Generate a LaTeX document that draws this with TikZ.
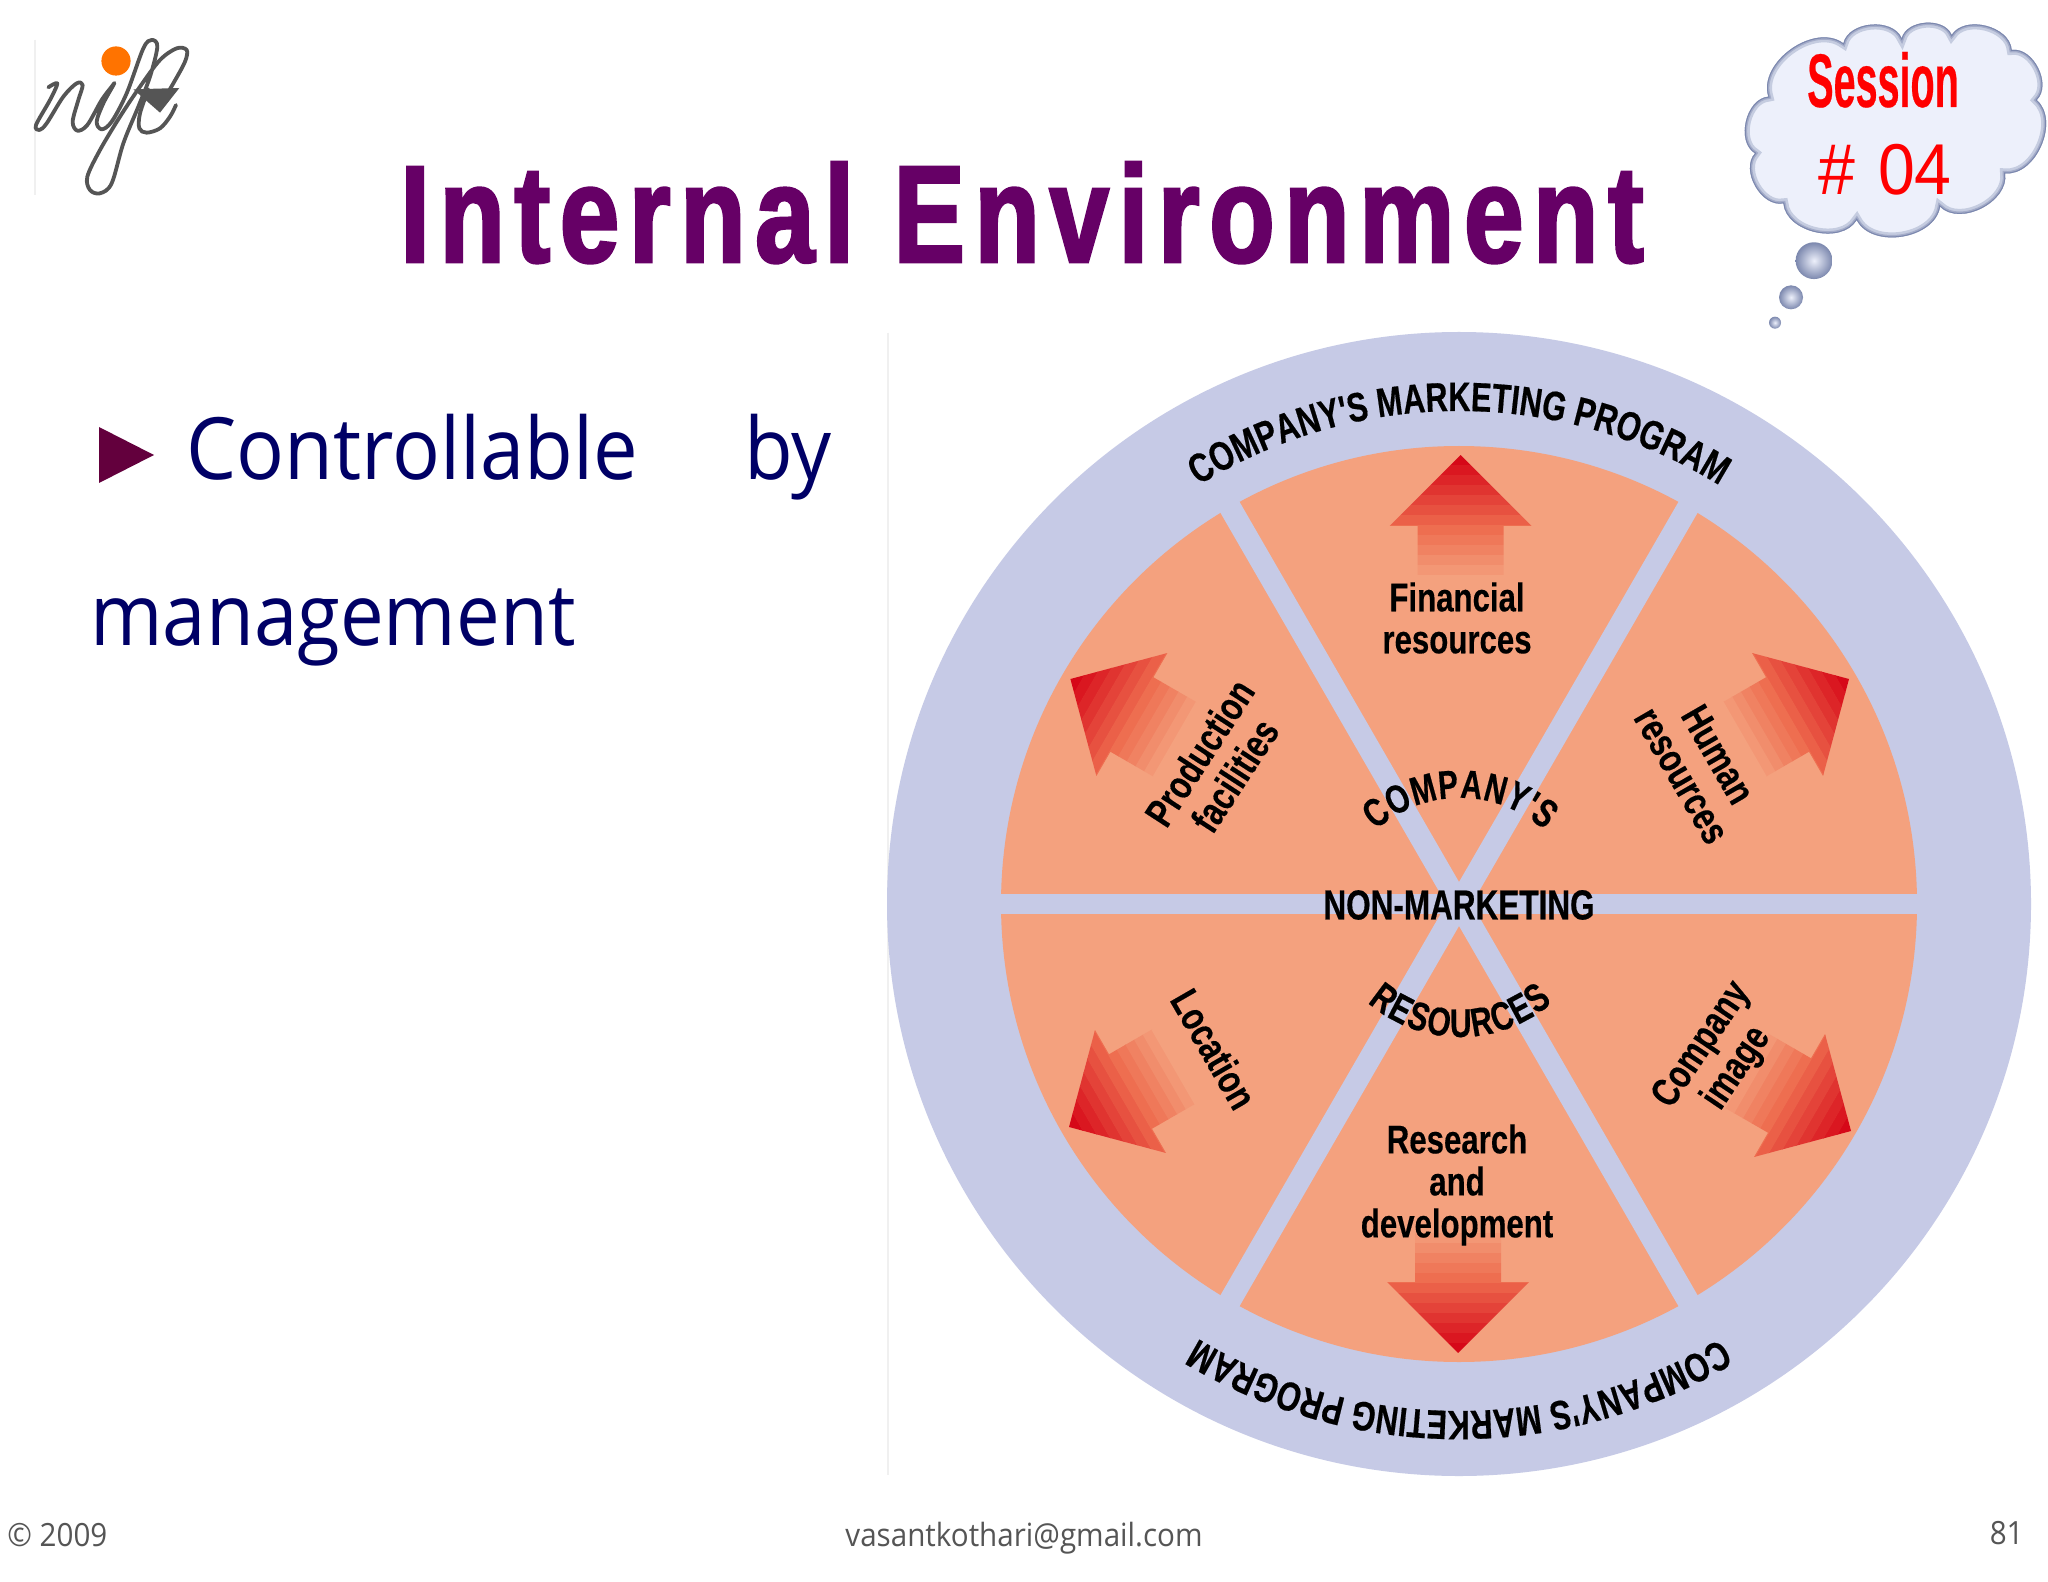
\documentclass[tikz,border=0pt]{standalone}
\usepackage{fontspec}
\usepackage{graphicx}
\usetikzlibrary{decorations.text}
\setmainfont[FakeStretch=0.925]{Open Sans}
\newfontfamily\titlef[FakeStretch=0.775,LetterSpace=7,FakeBold=2]{Liberation Sans}
\newfontfamily\wheelf[FakeStretch=0.75,FakeBold=0.4]{Liberation Sans}
\newfontfamily\labelf[FakeStretch=0.78,FakeBold=0.3]{Liberation Sans}
\newfontfamily\sessf[FakeStretch=0.52,FakeBold=0.3]{Liberation Sans}
\newfontfamily\numf[FakeStretch=0.92]{Liberation Sans}
\newcommand{\wf}{\wheelf\bfseries\fontsize{21}{21}\selectfont}
\newcommand{\wfo}{\wheelf\bfseries\fontsize{20.5}{21}\selectfont}
\newcommand{\wfi}{\wheelf\bfseries\fontsize{20}{21}\selectfont}
\definecolor{ringc}{HTML}{C6CAE6}
\definecolor{sectorc}{HTML}{F4A17E}
\definecolor{arrowred}{HTML}{D60818}
\definecolor{arrowmid}{HTML}{EE6E50}
\definecolor{titlec}{HTML}{660066}
\definecolor{navyc}{HTML}{000066}
\definecolor{footc}{HTML}{555555}
\definecolor{logoc}{HTML}{555555}
\tikzset{
  titletext/.style={text=titlec,font=\titlef\bfseries\fontsize{69}{69}\selectfont,inner sep=0pt},
  bodytext/.style={text=navyc,font=\fontsize{43}{43}\selectfont,inner sep=0pt,anchor=base west},
  foottext/.style={text=footc,font=\fontsize{16}{16}\selectfont,inner sep=0pt},
  wheellabel/.style={text=black,font=\labelf\bfseries\fontsize{20}{21}\selectfont,align=center,inner sep=0pt},
  wheelcaps/.style={text=black,font=\wf,inner sep=0pt},
  curvedtext/.style={decorate,decoration={text along path,text align=center,text={|\wfo|#1}}},
  curvedfit/.style={decorate,decoration={text along path,text align={fit to path},text={|\wfi|#1}}},
  logoline/.style={draw=logoc,line width=1.9pt,line cap=round,line join=round},
  bubble/.style={inner color=cloudin,outer color=cloudout}
}
\definecolor{cloudin}{HTML}{EDF0FB}
\definecolor{cloudout}{HTML}{7C88AE}
\newcommand{\wheelarrow}[3]{%
  \begin{scope}[shift={(#1,#2)},rotate=#3]
    \clip (0,0) -- (71,71) -- (43,71) -- (43,130) -- (-43,130) -- (-43,71) -- (-71,71) -- cycle;
    \foreach \i in {0,...,6}{
      \pgfmathtruncatemacro{\pct}{100-\i*100/7}
      \fill[arrowred!\pct!arrowmid] (-80,\i*10) rectangle (80,\i*10+10.4);
    }
    \foreach \i in {7,...,12}{
      \pgfmathtruncatemacro{\pct}{100-(\i-7)*100/5}
      \fill[arrowmid!\pct!sectorc] (-80,\i*10) rectangle (80,\i*10+10.4);
    }
  \end{scope}}
\def\cloudpath{(205,290) to[bend left=72] (430,130) to[bend left=72] (605,115) to[bend left=72] (755,105) to[bend left=72] (935,150) to[bend left=72] (1010,300) to[bend left=72] (915,520) to[bend left=72] (720,620) to[bend left=72] (470,660) to[bend left=72] (250,610) to[bend left=72] (165,460) to[bend left=72] cycle}
\begin{document}
\begin{tikzpicture}[x=0.5pt,y=-0.5pt]
\useasboundingbox (0,0) rectangle (2048,1582);
\fill[white] (0,0) rectangle (2048,1582);

% faint picture edges
\draw[black!6,line width=0.6pt] (35,40) -- (35,195);
\draw[black!6,line width=0.6pt] (888,333) -- (888,1475);

% logo
\begin{scope}[x=0.16667pt,y=-0.16667pt]
  \draw[logoline] plot[smooth,tension=0.55] coordinates {(145,262)(172,250)(150,300)(108,375)(118,390)(140,370)(190,290)(230,250)(248,255)(235,300)(218,365)(232,392)(262,375)(305,300)(335,260)(342,252)(310,310)(290,365)(305,388)(335,365)(380,280)(430,145)(455,120)(472,140)(450,230)(415,320)(370,430)(335,550)(300,580)(270,570)(262,530)(300,450)(360,350)(420,260)(480,180)(530,145)(560,150)(555,185)(520,250)(490,300)};
  \draw[logoline] plot[smooth,tension=0.55] coordinates {(445,268)(420,340)(418,385)(440,398)(480,385)(510,350)(528,315)};
  \fill[logoc] (400,268) -- (538,264) -- (480,338) -- cycle;
  \fill[orange!90!red] (348,183) circle[radius=7.3pt];
\end{scope}

% title
\node[titletext,anchor=base] (title) at (1022,262) {Internal Environment};

% thought cloud
\begin{scope}[shift={(1700,0)},x=0.16667pt,y=-0.16667pt]
  \fill[cloudin] \cloudpath;
  \begin{scope}
    \clip \cloudpath;
    \draw[draw=cloudin!65!cloudout,line width=5pt] \cloudpath;
    \draw[draw=cloudin!35!cloudout,line width=2.4pt] \cloudpath;
    \draw[draw=cloudout,line width=1pt] \cloudpath;
  \end{scope}
  \shade[bubble] (342,782) circle[radius=9.2pt];
  \shade[bubble] (273,892) circle[radius=6pt];
  \shade[bubble] (225,968) circle[radius=3pt];
\end{scope}
\node[text=red,font=\sessf\bfseries\fontsize{38}{38}\selectfont,inner sep=0pt,anchor=base] (sessionword) at (1883,107) {Session};
\node[text=red,font=\numf\fontsize{36}{36}\selectfont,inner sep=0pt,anchor=base] (sessionnum) at (1885,195) {\#\hspace{0.32em}04};

% body text
\fill[titlec!80!red!75!black] (99,427) -- (154,455) -- (99,483) -- cycle;
\node[bodytext] (controllable) at (186,480) {Controllable};
\node[bodytext] (by) at (744,480) {by};
\node[bodytext,xscale=0.98] (management) at (90,645) {management};

% wheel
\coordinate (hub) at (1459,904);
\fill[ringc] (hub) circle[radius=286pt];
\fill[sectorc] (hub) circle[radius=229pt];
\draw[ringc,line width=10pt] (995,904) -- (1923,904);
\draw[ringc,line width=11pt] (hub) ++(60:462) -- ++(240:924);
\draw[ringc,line width=11pt] (hub) ++(120:462) -- ++(300:924);

% arrows
\wheelarrow{1460.7}{455}{0}
\wheelarrow{1070.4}{679}{60}
\wheelarrow{1849}{679}{-60}
\wheelarrow{1069}{1127}{120}
\wheelarrow{1851}{1131}{-120}
\wheelarrow{1458}{1353}{180}

% wheel labels
\node[wheellabel] (financial) at (1457,618) {Financial\\resources};
\node[wheellabel,rotate=57] (production) at (1217,764) {Production\\facilities};
\node[wheellabel,rotate=-60] (human) at (1700,765) {Human\\resources};
\node[wheellabel,rotate=-60] (location) at (1214,1049) {Location};
\node[wheellabel,rotate=56] (image) at (1720,1057) {Company\\image};
\node[wheellabel] (research) at (1457,1185) {Research\\and\\development};
\node[wheelcaps] (nonmarketing) at (1459,905) {NON-MARKETING};

% curved labels (unflipped y so that angles read as usual)
\begin{scope}[shift={(1459,904)},y=0.5pt]
  \path[curvedtext={COMPANY'S MARKETING PROGRAM}] (145:493) arc[start angle=145,end angle=35,radius=246.5pt];
  \path[curvedtext={COMPANY'S MARKETING PROGRAM}] (-35:507) arc[start angle=-35,end angle=-145,radius=253.5pt];
\end{scope}
\begin{scope}[shift={(1460,924)},y=0.5pt]
  \path[curvedfit={COMPANY'S}] (132:126) arc[start angle=132,end angle=48,radius=63pt];
\end{scope}
\begin{scope}[shift={(1460,896)},y=0.5pt]
  \path[curvedfit={RESOURCES}] (229:141) arc[start angle=229,end angle=311,radius=70.5pt];
\end{scope}

% footer
\node[foottext,anchor=base west] (copyright) at (7,1546) {© 2009};
\node[foottext,anchor=base] (mail) at (1024,1546) {vasantkothari@gmail.com};
\node[foottext,anchor=base east] (page) at (2024,1544) {81};
\end{tikzpicture}
\end{document}
